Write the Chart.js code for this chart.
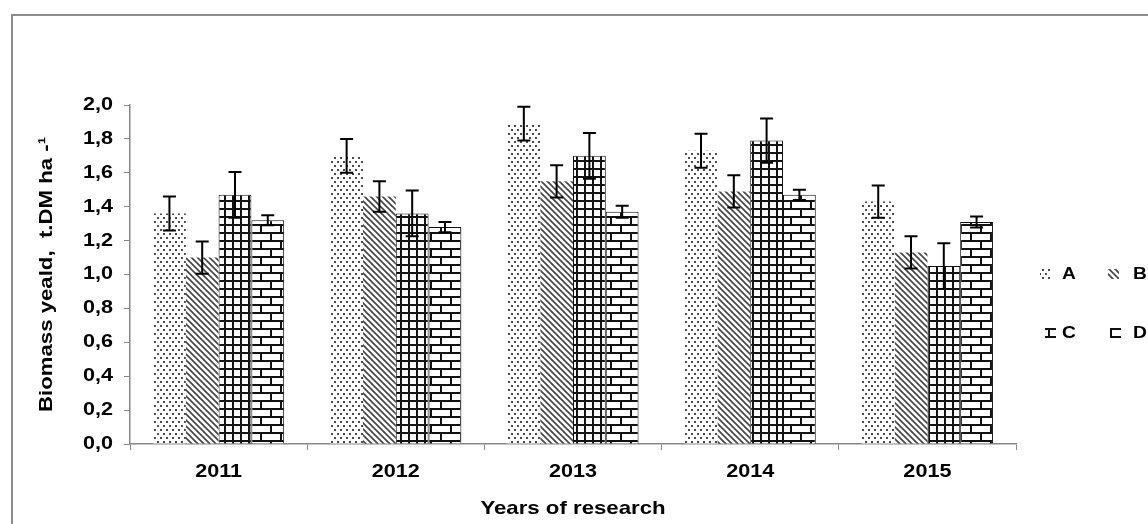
<!DOCTYPE html>
<html>
<head>
<meta charset="utf-8">
<script src="https://cdn.jsdelivr.net/npm/chart.js@4.4.1/dist/chart.umd.min.js"></script>
<style>
    html, body { margin: 0; padding: 0; background: #fff; overflow: hidden; }
    #wrap { position: relative; width: 1148px; height: 524px; }
    #frame { position: absolute; left: 11px; top: 14px; width: 1300px; height: 700px; border: 2px solid #8c8c8c; box-sizing: border-box; }
    canvas { position: absolute; left: 0; top: 0; }
</style>
</head>
<body>
<div id="wrap">
    <div id="frame"></div>
    <canvas id="chart" width="1148" height="524"></canvas>
</div>
<script>
    // Datos
    const years = ['2011', '2012', '2013', '2014', '2015'];
    const seriesNames = ['A', 'B', 'C', 'D'];
    const valuesA = [1.36, 1.70, 1.89, 1.73, 1.43];
    const valuesB = [1.10, 1.46, 1.55, 1.49, 1.13];
    const valuesC = [1.47, 1.36, 1.70, 1.79, 1.05];
    const valuesD = [1.32, 1.28, 1.37, 1.47, 1.31];
    const errorsA = [0.10, 0.10, 0.10, 0.10, 0.095];
    const errorsB = [0.095, 0.09, 0.095, 0.095, 0.095];
    const errorsC = [0.135, 0.135, 0.135, 0.13, 0.135];
    const errorsD = [0.03, 0.03, 0.035, 0.03, 0.032];
    const yMin = 0, yMax = 2, yStep = 0.2;

    const canvas = document.getElementById('chart');
    const ctx = canvas.getContext('2d');
    const FONT = 'Liberation Sans, Arial, sans-serif';

    // el original tiene el texto estirado a lo ancho: se escala cada texto en x
    const SX = 1.2;
    const baseFillText = ctx.fillText;
    const baseMeasureText = ctx.measureText;
    ctx.fillText = function (text, x, y) {
        this.save();
        this.translate(x, y);
        this.scale(SX, 1);
        baseFillText.call(this, text, 0, 0);
        this.restore();
    };
    ctx.measureText = function (text) {
        const m = baseMeasureText.call(this, text);
        return {
            width: m.width * SX,
            actualBoundingBoxAscent: m.actualBoundingBoxAscent,
            actualBoundingBoxDescent: m.actualBoundingBoxDescent
        };
    };

    // --- patrones de relleno ---
    function makePattern(w, h, draw) {
        const c = document.createElement('canvas');
        c.width = w; c.height = h;
        const g = c.getContext('2d');
        g.fillStyle = '#fff';
        g.fillRect(0, 0, w, h);
        draw(g);
        return ctx.createPattern(c, 'repeat');
    }
    const dotsFill = makePattern(6, 8, g => {
        g.fillStyle = '#4a4a4a';
        g.fillRect(1, 1, 2, 2);
        g.fillRect(4, 5, 2, 2);
    });
    const diagFill = makePattern(6, 6, g => {
        g.strokeStyle = '#444';
        g.lineWidth = 1.6;
        g.beginPath();
        g.moveTo(-1, -1); g.lineTo(7, 7);
        g.moveTo(-1, 5); g.lineTo(1, 7);
        g.moveTo(5, -1); g.lineTo(7, 1);
        g.stroke();
    });
    const gridFill = makePattern(8, 8, g => {
        g.fillStyle = '#111';
        g.fillRect(0, 0, 8, 2);
        g.fillRect(0, 0, 2, 8);
    });
    const brickFill = makePattern(20, 16, g => {
        g.fillStyle = '#111';
        g.fillRect(0, 0, 20, 2);
        g.fillRect(0, 8, 20, 2);
        g.fillRect(0, 0, 2, 8);
        g.fillRect(10, 8, 2, 8);
    });
    const fills = [dotsFill, diagFill, gridFill, brickFill];

    // barras de error (con la escala del gráfico)
    const errorBarPlugin = {
        id: 'errorBars',
        afterDatasetsDraw(chart) {
            const c = chart.ctx;
            const y = chart.scales.y;
            c.save();
            c.strokeStyle = '#000';
            c.lineWidth = 2;
            chart.data.datasets.forEach((ds, i) => {
                const meta = chart.getDatasetMeta(i);
                meta.data.forEach((bar, j) => {
                    const v = ds.data[j], e = ds.errors[j];
                    const top = y.getPixelForValue(v + e);
                    const bot = y.getPixelForValue(v - e);
                    c.beginPath();
                    c.moveTo(bar.x, top); c.lineTo(bar.x, bot);
                    c.moveTo(bar.x - 6.5, top); c.lineTo(bar.x + 6.5, top);
                    c.moveTo(bar.x - 6.5, bot); c.lineTo(bar.x + 6.5, bot);
                    c.stroke();
                });
            });
            c.restore();
        }
    };

    // leyenda 2x2 a la derecha
    const legendPlugin = {
        id: 'gridLegend',
        afterDraw(chart) {
            const c = chart.ctx;
            const spots = [[1040, 274], [1108, 274], [1045, 333], [1110, 333]];
            c.save();
            c.font = 'bold 16px ' + FONT;
            c.textBaseline = 'middle';
            chart.data.datasets.forEach((ds, i) => {
                const [x, y] = spots[i];
                c.fillStyle = ds.backgroundColor;
                c.fillRect(x, y - 5, 11, 10);
                c.fillStyle = '#000';
                c.fillText(ds.label, i % 2 ? 1133 : 1062, y + 1);
            });
            c.restore();
        }
    };

    const allValues = [valuesA, valuesB, valuesC, valuesD];
    const allErrors = [errorsA, errorsB, errorsC, errorsD];

    new Chart(ctx, {
        type: 'bar',
        data: {
            labels: years,
            datasets: seriesNames.map((name, i) => ({
                label: name,
                data: allValues[i],
                errors: allErrors[i],
                backgroundColor: fills[i],
                borderColor: '#111',
                borderWidth: i >= 2 ? 1 : 0
            }))
        },
        options: {
            responsive: false,
            animation: false,
            layout: { padding: { left: 30, right: 132, top: 105, bottom: 0 } },
            datasets: { bar: { categoryPercentage: 0.74, barPercentage: 1 } },
            plugins: { legend: { display: false }, tooltip: { enabled: false } },
            scales: {
                x: {
                    grid: { display: true, drawOnChartArea: false, tickLength: 6, color: '#888', offset: true },
                    border: { color: '#888', width: 1.5 },
                    ticks: { color: '#000', padding: 11, font: { family: FONT, size: 18, weight: 'bold' } },
                    title: { display: true, text: 'Years of research', color: '#000', padding: { top: 0, bottom: 4 },
                             font: { family: FONT, size: 18.5, weight: 'bold' } },
                    afterFit(s) { s.height = 80; }
                },
                y: {
                    min: yMin, max: yMax,
                    grid: { display: true, drawOnChartArea: false, tickLength: 6, color: '#888' },
                    border: { color: '#888', width: 1.5 },
                    ticks: { stepSize: yStep, color: '#000', padding: 11,
                             font: { family: FONT, size: 18, weight: 'bold' },
                             callback: v => v.toFixed(1).replace('.', ',') },
                    title: { display: true, text: 'Biomass yeald,  t.DM ha -¹', color: '#000', padding: 6,
                             font: { family: FONT, size: 18.5, weight: 'bold' } },
                    afterFit(s) { s.width = 100; }
                }
            }
        },
        plugins: [errorBarPlugin, legendPlugin]
    });
</script>
</body>
</html>
